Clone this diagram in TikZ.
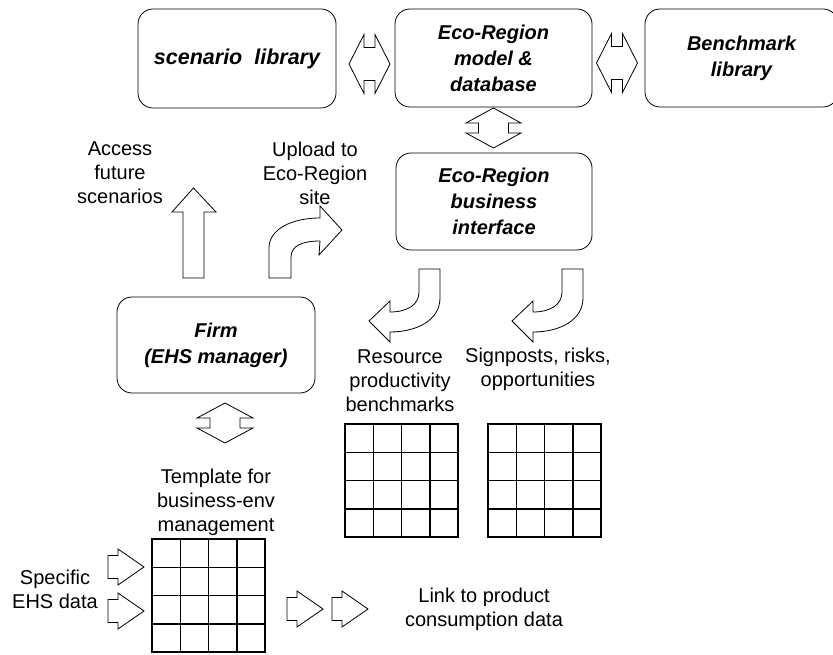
\documentclass[tikz,border=0pt]{standalone}
\usepackage{fontspec}
\setmainfont{Liberation Sans}
\usetikzlibrary{calc}
\newcommand\myhdbl[5]{% center, half length, shaft half length, head half width, shaft half width
  \draw[blk,shift={(#1)}] (-#2,0) -- (-#3,-#4) -- (-#3,-#5) -- (#3,-#5) -- (#3,-#4) -- (#2,0)
    -- (#3,#4) -- (#3,#5) -- (-#3,#5) -- (-#3,#4) -- cycle;}
\newcommand\myvdbl[5]{%
  \draw[blk,shift={(#1)}] (0,-#2) -- (#4,-#3) -- (#5,-#3) -- (#5,#3) -- (#4,#3) -- (0,#2)
    -- (-#4,#3) -- (-#5,#3) -- (-#5,-#3) -- (-#4,-#3) -- cycle;}
\newcommand\myrarrow[1]{%
  \draw[blk,shift={(#1)}] (0,-11.5) -- (10,-11.5) -- (10,-18) -- (36,0) -- (10,18) -- (10,11.5) -- (0,11.5) -- cycle;}
\newcommand\mygrid[1]{%
  \draw[grd,shift={(#1)}] foreach \i in {0,...,4} {(\i*28.25,0) -- (\i*28.25,113) (0,\i*28.25) -- (113,\i*28.25)};}
\begin{document}
\begin{tikzpicture}[x=1pt,y=-1pt,
  box/.style={draw, rounded corners=15pt, line width=0.8pt, font=\fontsize{20}{26}\selectfont\bfseries\itshape, align=center, inner sep=0pt},
  lbl/.style={font=\fontsize{20}{24}\selectfont, align=center, inner sep=0pt},
  blk/.style={draw, line width=0.8pt, fill=white, line join=miter},
  grd/.style={line width=1.5pt, line cap=rect}]
\useasboundingbox (0,0) rectangle (833,655);
\clip (0,0) rectangle (833,655);
% boxes
\node[box, minimum width=198pt, minimum height=99pt, font=\fontsize{21.5}{26}\selectfont\bfseries\itshape] (scen) at (237,58.5) {scenario\ \ library};
\node[box, minimum width=197pt, minimum height=98pt] (model) at (493.5,58) {Eco-Region\\model \&\\database};
\node[box, minimum width=193pt, minimum height=98pt] (bench) at (741.5,58) {Benchmark\\library};
\node[box, minimum width=196pt, minimum height=97pt] (iface) at (494,201.5) {Eco-Region\\business\\interface};
\node[box, minimum width=198pt, minimum height=96pt] (firm) at (216,345) {Firm\\(EHS manager)};
% double block arrows
\coordinate (d1) at (369.5,64);
\coordinate (d2) at (617,63);
\coordinate (d3) at (493.5,128);
\coordinate (d4) at (225,423);
\myhdbl{d1}{20.5}{5.5}{29.5}{16.5}
\myhdbl{d2}{20.5}{5.5}{29.5}{16.5}
\myvdbl{d3}{20}{5}{27.5}{15}
\myvdbl{d4}{20}{5}{28}{15}
% up arrow
\draw[blk] (183,278) -- (183,212) -- (172,212) -- (193.5,188) -- (216,212) -- (204,212) -- (204,278) -- cycle;
% upload curved arrow
\draw[blk] (269,278) -- (269,248) .. controls (269,229) and (292,218) .. (320,218) -- (320,206)
  -- (342,230) -- (319,255) -- (320,241) .. controls (302,241) and (291,246) .. (291,257) -- (291,278) -- cycle;
% down-left curved arrows
\foreach \dx in {0,-143}{
\draw[blk,shift={(\dx,0)}] (562,269) -- (583,269) -- (583,298) .. controls (583,320) and (560,332) .. (533,332)
  -- (533,342) -- (512,321) -- (533,301) -- (533,312) .. controls (550,312) and (562,305) .. (562,292) -- cycle;
}
% grids
\mygrid{345,424}
\mygrid{488,424}
\mygrid{152,539}
% small arrows
\myrarrow{108,567}
\myrarrow{108,611}
\myrarrow{287,609}
\myrarrow{332,609}
% labels
\node[lbl] (acc) at (120,173) {Access\\future\\scenarios};
\node[lbl] (upl) at (315,173) {Upload to\\Eco-Region\\site};
\node[lbl] (res) at (400,381) {Resource\\productivity\\benchmarks};
\node[lbl] (sig) at (538,369) {Signposts, risks,\\opportunities};
\node[lbl] (tpl) at (216,502) {Template for\\business-env\\management};
\node[lbl] (ehs) at (55,589) {Specific\\EHS data};
\node[lbl] (lnk) at (484,609) {Link to product\\consumption data};
\end{tikzpicture}
\end{document}
